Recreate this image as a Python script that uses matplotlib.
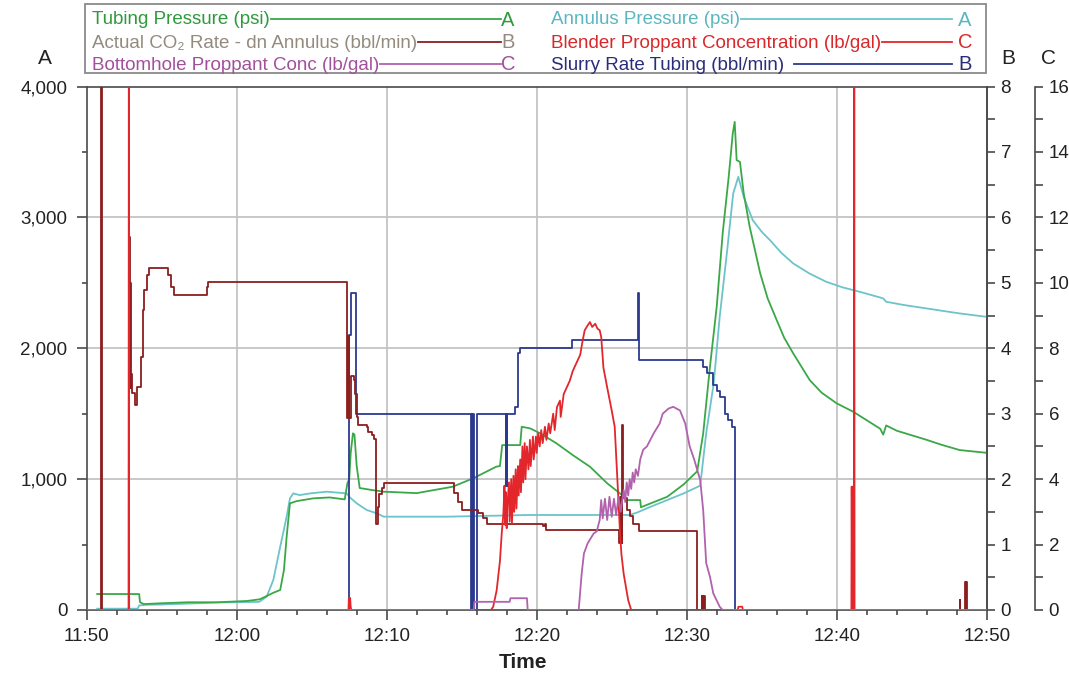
import matplotlib
matplotlib.use("Agg")
import matplotlib.pyplot as plt
from matplotlib import font_manager
from matplotlib.lines import Line2D
from matplotlib.patches import Rectangle
from matplotlib.ticker import MultipleLocator, FuncFormatter

# ---------------- DATA (time = minutes after 11:50) ----------------
tubing_t = [0.7, 3.5, 3.55, 3.8, 4.9, 6.7, 8.7, 10.7, 11.55, 12.45, 12.9, 13.15, 13.33, 13.55,
            14.0, 15.1, 16.2, 17.2, 17.38, 17.5, 17.6, 17.75, 17.85, 18.0, 18.2, 19.0, 19.8,
            22.0, 24.4, 25.8, 27.3, 27.55, 27.7, 28.9, 29.0, 29.55, 30.2, 31.3, 32.4, 33.55,
            34.7, 35.55, 36.0, 36.9, 36.95, 37.6, 38.7, 39.8, 40.7, 41.1, 41.55, 42.0, 42.4,
            42.8, 43.07, 43.2, 43.33, 43.55, 43.8, 44.2, 44.9, 45.4, 46.0, 46.5, 47.1, 48.2,
            49.0, 50.0, 51.1, 52.9, 53.1, 53.3, 54.0, 55.0, 56.0, 57.0, 58.2, 60.0]
tubing_v = [122, 122, 60, 45, 51, 59, 59, 69, 82, 132, 153, 306, 560, 815,
            832, 853, 860, 845, 968, 1000, 1200, 1350, 1340, 1100, 932, 917, 904,
            893, 942, 1008, 1095, 1100, 1260, 1260, 1400, 1388, 1352, 1275, 1184, 1095,
            968, 891, 840, 840, 785, 815, 865, 960, 1060, 1350, 1858, 2317, 2880,
            3310, 3641, 3730, 3437, 3424, 3183, 2928, 2572, 2380, 2215, 2080, 1961, 1757,
            1660, 1579, 1515, 1385, 1340, 1410, 1370, 1335, 1300, 1262, 1222, 1201]

annulus_t = [0.7, 3.4, 3.5, 4.0, 5.0, 7.0, 9.0, 11.5, 12.0, 12.44, 12.9, 13.33, 13.55, 13.77,
             14.2, 14.9, 16.0, 17.33, 17.55, 18.0, 18.67, 19.33, 19.8, 24.0, 29.5, 33.0,
             36.2, 36.7, 37.6, 38.7, 39.8, 40.9, 41.3, 41.8, 42.2, 42.7, 43.1, 43.44, 43.8,
             44.4, 45.0, 45.55, 46.3, 47.1, 48.2, 49.3, 50.4, 51.55, 53.1, 53.3, 54.5, 56.0,
             58.2, 60.0]
annulus_v = [10, 10, 35, 40, 42, 50, 58, 62, 102, 229, 483, 713, 853, 891,
             878, 891, 904, 891, 860, 815, 764, 739, 713, 713, 726, 726,
             726, 745, 789, 840, 891, 950, 1350, 1731, 2240, 2750, 3183, 3310, 3157,
             2979, 2890, 2826, 2730, 2648, 2570, 2508, 2465, 2431, 2381, 2355, 2330, 2304,
             2266, 2240]

# Actual CO2 rate (bbl/min), step data
co2_t = [0, 0.92, 0.95, 0.98, 1.01, 2.82, 2.86, 2.9, 2.94, 2.98, 3.05, 3.22, 3.33, 3.62, 3.72,
         3.84, 4.0, 4.18, 5.4, 5.6, 5.8, 8.0, 8.12, 17.37, 17.45, 17.5, 17.6, 17.8, 17.9,
         18.0, 18.1, 18.7, 18.77, 19.0, 19.15, 19.27, 19.4, 19.5, 19.7, 19.85, 24.5, 24.75,
         25.0, 26.1, 26.4, 26.7, 30.45, 30.55, 30.62, 35.52, 35.56, 35.6, 35.64, 35.68,
         35.72, 35.76, 36.0, 36.2, 36.45, 36.8, 40.67, 41.0, 41.04, 41.08, 41.12, 41.16,
         41.2, 58.2, 58.25, 58.55, 58.6, 58.65, 58.7, 60.0]
co2_v = [0, 9, 0, 9, 0, 5.7, 3.4, 5.0, 3.4, 3.6, 3.31, 3.13, 3.41, 3.87, 4.58,
         4.89, 5.12, 5.22, 5.12, 4.94, 4.81, 4.94, 5.02, 2.93, 4.18, 2.93, 3.58, 3.52, 3.3,
         2.95, 2.83, 2.80, 2.72, 2.67, 2.62, 1.32, 1.58, 1.78, 1.86, 1.94, 1.79, 1.65,
         1.53, 1.48, 1.40, 1.32, 1.28, 1.32, 1.22, 1.02, 1.73, 1.02, 1.73, 1.02,
         2.83, 1.71, 1.53, 1.43, 1.32, 1.21, 0, 0.21, 0, 0.21, 0, 0.21,
         0, 0.15, 0, 0.43, 0, 0.43, 0, 0]

# Slurry rate tubing (bbl/min), step data
slurry_t = [0, 17.5, 17.62, 17.95, 25.65, 25.69, 25.72, 25.76, 25.79, 26.0, 27.95, 27.98,
            28.01, 28.04, 28.55, 28.77, 28.9, 32.35, 36.77, 36.82, 41.1, 41.33, 41.77, 42.0,
            42.2, 42.55, 42.77, 43.0, 43.2, 60.0]
slurry_v = [0, 4.2, 4.84, 3.0, 0, 3.0, 0, 3.0, 0, 3.0, 1.9, 3.0,
            1.9, 3.0, 3.1, 3.93, 4.0, 4.13, 4.84, 3.82, 3.72, 3.62, 3.44, 3.34,
            3.26, 3.0, 2.9, 2.8, 0, 0]

# Blender proppant concentration (lb/gal)
blender_t = [0, 2.79, 2.81, 2.83, 17.45, 17.48, 17.52, 17.56, 17.6, 17.64, 26.95, 27.1, 27.33,
             27.55, 27.67, 27.78, 27.85, 27.9, 27.95, 28.0, 28.05, 28.15, 28.2, 28.3, 28.35,
             28.45, 28.5, 28.6, 28.65, 28.75, 28.8, 28.9, 28.95, 29.05, 29.1, 29.2, 29.25,
             29.35, 29.45, 29.55, 29.6, 29.75, 29.8, 29.95, 30.0, 30.1, 30.2, 30.3, 30.4,
             30.55, 30.65, 30.8, 30.9, 31.1, 31.2, 31.35, 31.55, 31.6, 31.8, 32.0, 32.2,
             32.4, 32.6, 32.9, 33.05, 33.2, 33.4, 33.55, 33.7, 33.9, 34.05, 34.2, 34.3,
             34.45, 34.7, 35.0, 35.2, 35.4, 35.55, 35.65, 35.8, 36.1, 36.3, 43.4, 43.45,
             43.7, 43.75, 50.98, 51.0, 51.03, 51.06, 51.09, 51.12, 51.15, 51.17, 51.19, 60.0]
blender_v = [0, 0, 17, 0, 0, 0.37, 0.1, 0.37, 0.1, 0, 0, 0.1, 0.6,
             1.5, 2.35, 2.95, 3.8, 2.6, 3.6, 2.5, 3.2, 3.9, 2.7, 4.0, 2.65,
             4.1, 3.0, 4.3, 3.1, 4.4, 3.5, 4.6, 3.6, 5.0, 3.9, 5.1, 4.0,
             5.0, 4.3, 5.2, 4.4, 5.3, 4.6, 5.3, 4.8, 5.4, 5.0, 5.5, 5.1,
             5.6, 5.2, 5.7, 5.4, 6.0, 5.5, 6.2, 6.4, 5.9, 6.6, 6.8, 7.0,
             7.3, 7.5, 7.8, 8.2, 8.55, 8.7, 8.8, 8.65, 8.75, 8.6, 8.55, 8.35,
             7.4, 6.8, 6.1, 5.6, 3.8, 2.4, 1.7, 1.1, 0.3, 0, 0, 0.1,
             0.1, 0, 0, 3.77, 0, 3.77, 0, 3.77, 0, 17, 0, 0]

# Bottomhole proppant concentration (lb/gal)
bottom_t = [0, 25.8, 25.85, 28.2, 28.25, 29.35, 29.4, 32.8, 33.0, 33.15, 33.4, 33.8, 34.0,
            34.2, 34.3, 34.4, 34.55, 34.7, 34.85, 35.0, 35.15, 35.3, 35.45, 35.6, 35.8, 35.9,
            36.0, 36.1, 36.2, 36.3, 36.4, 36.5, 36.6, 36.75, 36.9, 37.1, 37.35, 37.8, 38.2,
            38.4, 38.8, 39.1, 39.55, 39.9, 40.2, 40.5, 40.9, 41.1, 41.3, 41.55, 41.77, 42.2,
            42.4, 60.0]
bottom_v = [0, 0, 0.25, 0.25, 0.36, 0.36, 0, 0, 1.12, 1.73, 2.04, 2.34, 2.4,
            2.75, 3.36, 2.8, 3.4, 2.75, 3.46, 2.85, 3.4, 2.9, 3.45, 3.0, 3.67, 3.3,
            3.9, 3.5, 4.0, 3.7, 4.2, 3.9, 4.3, 4.1, 4.6, 4.9, 5.0, 5.4, 5.7,
            6.0, 6.16, 6.21, 6.1, 5.7, 5.0, 4.6, 3.97, 3.05, 1.43, 1.02, 0.51, 0.1,
            0, 0]

x_ticks = [0, 10, 20, 30, 40, 50, 60]
x_tick_labels = ["11:50", "12:00", "12:10", "12:20", "12:30", "12:40", "12:50"]

# ---------------- STYLE ----------------
names = {f.name for f in font_manager.fontManager.ttflist}
base_font = "Liberation Sans Narrow" if "Liberation Sans Narrow" in names else "Liberation Sans"
plt.rcParams["font.family"] = [base_font, "DejaVu Sans"]

W, H = 1069, 682
fig = plt.figure(figsize=(W / 100, H / 100), dpi=100)

def fx(x):
    return x / W

def fy(y):
    return 1 - y / H

L, R, T, B = 86.7, 986.7, 86.5, 610.0
ax = fig.add_axes([fx(L), fy(B), (R - L) / W, (B - T) / H])
ax2 = ax.twinx()
ax3 = ax.twinx()
ax3.spines["right"].set_position(("outward", 48 * 0.72))

c_green = "#3aa847"
c_cyan = "#6cc4ca"
c_maroon = "#8b1e1e"
c_red = "#e3262b"
c_purple = "#b261ad"
c_navy = "#2c3a8e"
spine_c = "#4a4a4a"
lw = 1.3

ax.set_zorder(1)
ax2.set_zorder(2)
ax3.set_zorder(3)
for a in (ax2, ax3):
    a.patch.set_visible(False)

ax.set_xlim(0, 60)
ax.set_ylim(0, 4000)
ax2.set_ylim(0, 8)
ax3.set_ylim(0, 16)

# grid
for gx in x_ticks[1:-1]:
    ax.axvline(gx, color="#c4c4c4", lw=1.3, zorder=0)
for gy in [1000, 2000, 3000]:
    ax.axhline(gy, color="#c4c4c4", lw=1.3, zorder=0)

# series
ax3.plot(bottom_t, bottom_v, color=c_purple, lw=lw, zorder=3)
ax.plot(annulus_t, annulus_v, color=c_cyan, lw=lw, zorder=3)
ax.plot(tubing_t, tubing_v, color=c_green, lw=lw, zorder=4)
ax2.plot(slurry_t, slurry_v, color=c_navy, lw=lw, drawstyle="steps-post", zorder=3)
ax2.plot(co2_t, co2_v, color=c_maroon, lw=lw, drawstyle="steps-post", zorder=4)
ax3.plot(blender_t, blender_v, color=c_red, lw=lw, zorder=2)

# axes styling
for a in (ax, ax2, ax3):
    for s in a.spines.values():
        s.set_color(spine_c)
        s.set_linewidth(1.2)
ax3.spines["top"].set_visible(False)
ax3.spines["left"].set_visible(False)
ax3.spines["bottom"].set_visible(False)
ax2.spines["left"].set_visible(False)
ax2.spines["top"].set_visible(False)
ax2.spines["bottom"].set_visible(False)

tick_font = 13.5
ax.set_xticks(x_ticks)
ax.set_xticklabels(x_tick_labels)
ax.xaxis.set_minor_locator(MultipleLocator(2))
ax.yaxis.set_major_locator(MultipleLocator(1000))
ax.yaxis.set_minor_locator(MultipleLocator(500))
ax.yaxis.set_major_formatter(FuncFormatter(lambda v, p: f"{int(v):,}"))
ax.tick_params(axis="both", which="major", direction="out", length=7, width=1.2,
               color=spine_c, labelsize=tick_font, labelcolor="#222222")
ax.tick_params(axis="both", which="minor", direction="out", length=3.5, width=1.2, color=spine_c)
ax.tick_params(axis="y", pad=7)
ax.tick_params(axis="x", pad=6)
ax.tick_params(axis="y", which="both", right=False)
ax.tick_params(axis="x", which="both", top=False)

ax2.yaxis.set_major_locator(MultipleLocator(1))
ax2.yaxis.set_minor_locator(MultipleLocator(0.5))
ax2.tick_params(axis="y", which="major", direction="out", length=6, width=1.2,
                color=spine_c, labelsize=tick_font, labelcolor="#222222", pad=4)
ax2.tick_params(axis="y", which="minor", direction="out", length=6, width=1.2, color=spine_c)

ax3.yaxis.set_major_locator(MultipleLocator(2))
ax3.yaxis.set_minor_locator(MultipleLocator(1))
ax3.tick_params(axis="y", which="major", direction="out", length=6, width=1.2,
                color=spine_c, labelsize=tick_font, labelcolor="#222222", pad=4)
ax3.tick_params(axis="y", which="minor", direction="out", length=6, width=1.2, color=spine_c)

# axis letters and title
fig.text(fx(45), fy(58), "A", ha="center", va="center", fontsize=15, color="#222222")
fig.text(fx(1008), fy(58), "B", ha="center", va="center", fontsize=15, color="#222222")
fig.text(fx(1048), fy(58), "C", ha="center", va="center", fontsize=15, color="#222222")
fig.text(fx(523), fy(663), "Time", ha="center", va="center", fontsize=15,
         fontweight="bold", color="#222222")

# ---------------- LEGEND (manual) ----------------
fig.patches.append(Rectangle((fx(85), fy(73)), (986 - 85) / W, (73 - 4) / H,
                             transform=fig.transFigure, fill=False,
                             edgecolor="#8a8a8a", lw=1.3))
legend_items = [
    ("Tubing Pressure (psi)", "#2e9a3c", c_green, "A", 0, 20),
    ("Annulus Pressure (psi)", "#5ab7c0", c_cyan, "A", 1, 20),
    ("Actual CO\u2082 Rate - dn Annulus (bbl/min)", "#948a7e", c_maroon, "B", 0, 43),
    ("Blender Proppant Concentration (lb/gal)", "#d8282c", c_red, "C", 1, 43),
    ("Bottomhole Proppant Conc (lb/gal)", "#a2509c", c_purple, "C", 0, 65),
    ("Slurry Rate Tubing (bbl/min)", "#2a2d7c", c_navy, "B", 1, 65),
]
col_text_x = [92, 551]
col_line_end = [501, 952]
col_letter_x = [508, 965]
leg_font = 13.5
fig.canvas.draw()
renderer = fig.canvas.get_renderer()
for label, tcol, lcol, letter, col, ry in legend_items:
    t = fig.text(fx(col_text_x[col]), fy(ry), label, ha="left", va="center",
                 fontsize=leg_font, color=tcol)
    bb = t.get_window_extent(renderer=renderer)
    gap = 10 if label.startswith("Slurry") else 1
    x0 = bb.x1 + gap
    fig.lines.append(Line2D([fx(x0), fx(col_line_end[col])], [fy(ry - 1), fy(ry - 1)],
                            transform=fig.transFigure, color=lcol, lw=1.3))
    fig.text(fx(col_letter_x[col]), fy(ry), letter, ha="center", va="center",
             fontsize=leg_font + 1, color=tcol)

fig.savefig("out.png", dpi=100)
